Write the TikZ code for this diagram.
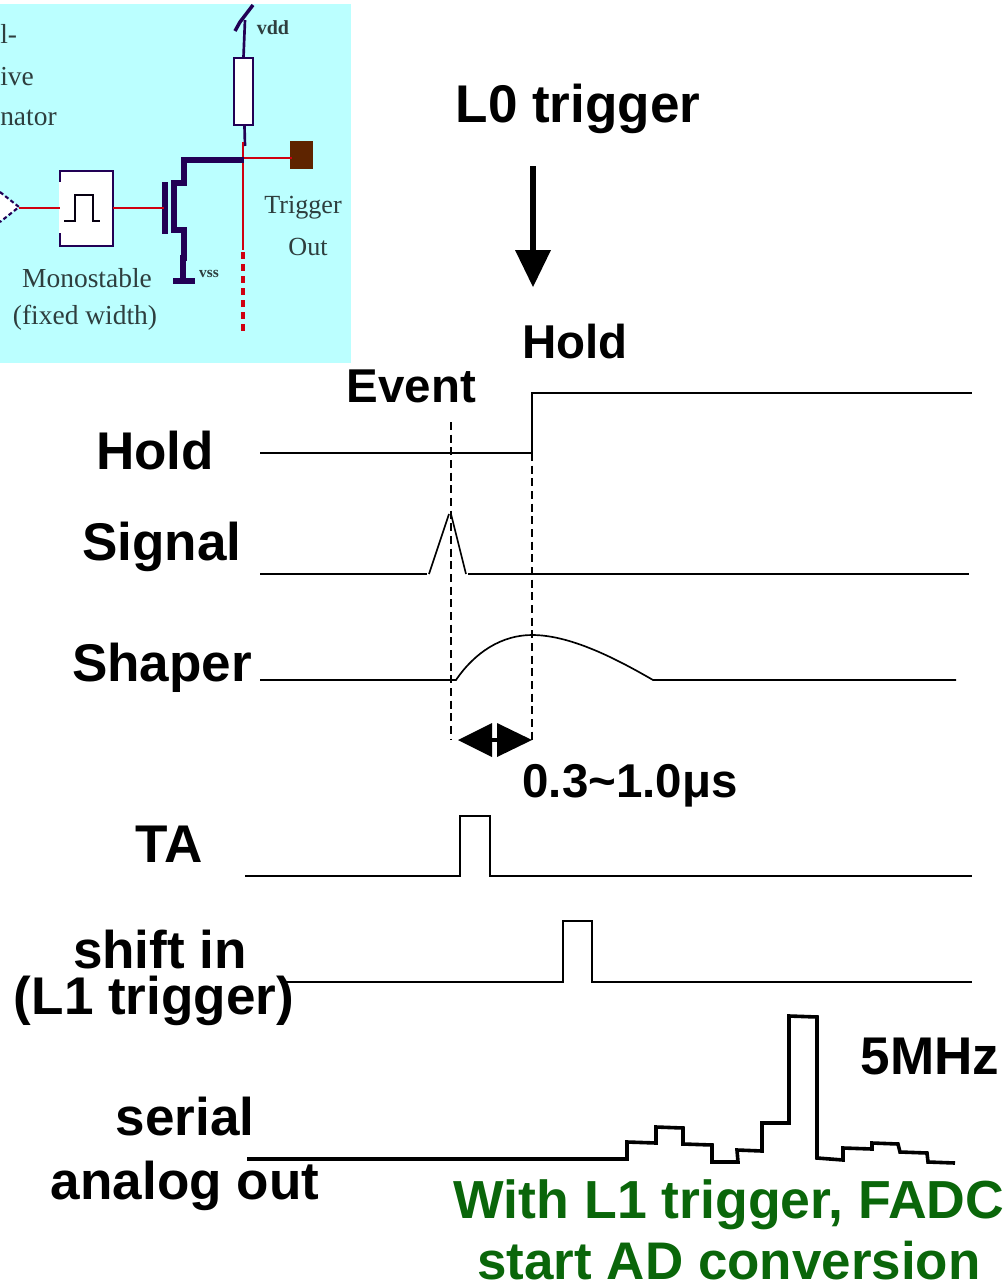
\documentclass[tikz,border=0pt]{standalone}
\usepackage{fontspec}
\setmainfont{Liberation Sans}
\newfontfamily\circfont{Liberation Serif}
\usetikzlibrary{arrows.meta}
\definecolor{panelcyan}{HTML}{BBFFFF}
\definecolor{navywire}{HTML}{220055}
\definecolor{redwire}{HTML}{D00010}
\definecolor{padbrown}{HTML}{5E2400}
\definecolor{fadcgreen}{HTML}{0A660A}
\definecolor{circtext}{HTML}{2E3E3E}
\tikzset{
  x=0.75pt,y=-0.75pt,
  bigtext/.style={anchor=base,inner sep=0pt,font=\fontsize{39.8}{44}\selectfont\bfseries},
  midtext/.style={anchor=base,inner sep=0pt,font=\fontsize{35.6}{40}\selectfont\bfseries},
  greentext/.style={anchor=base,inner sep=0pt,text=fadcgreen,font=\fontsize{40.2}{44}\selectfont\bfseries},
  circlabel/.style={anchor=base,inner sep=0pt,text=circtext,font=\fontsize{20.6}{24}\circfont},
  wave/.style={line width=1.25pt,line join=miter},
  thickwave/.style={line width=2.7pt,line join=miter},
  guide/.style={line width=0.9pt,dash pattern=on 6pt off 3.5pt},
  navy/.style={navywire,line width=2pt},
  navyheavy/.style={navywire,line width=3.8pt},
  redline/.style={redwire,line width=1.4pt},
}
\begin{document}
\begin{tikzpicture}
\useasboundingbox (0,0) rectangle (1007,1282);
% circuit panel
\fill[panelcyan] (0,4) rectangle (351,363);
\coordinate (vddtop) at (245,20);
\coordinate (junction) at (244,160);
\node[draw=navywire,line width=1.7pt,fill=white,minimum width=14pt,minimum height=50pt,inner sep=0pt] (res) at (243.5,91.5) {};
\draw[navywire,line width=2.6pt] (235,31) -- (240,22) -- (253,5);
\draw[navy] (vddtop) -- (res.north);
\draw[navy] (res.south) ++(1,0) -- (245,146);
\draw[redline] (243,142) -- (243,250);
\draw[redwire,line width=3.2pt,dash pattern=on 5pt off 4pt] (243,252) -- (243,331);
\node[fill=padbrown,minimum width=17.5pt,minimum height=21pt,inner sep=0pt] (pad) at (301.5,155) {};
\draw[redline] (junction |- pad.west) ++(0,3) -- ++(48,0);
\draw[navyheavy] (181,160) -- (junction);
\draw[navyheavy] (184,160) -- (184,183) -- (174,183) -- (174,230) -- (184,230) -- (184,258) -- (183,258) -- (183,281);
\draw[navyheavy] (173,281) -- (195,281);
\draw[navywire,line width=3.8pt] (165,182) -- (165,234);
\node[fill=white,minimum width=40pt,minimum height=57pt,inner sep=0pt] (mono) at (86,208) {};
\draw[navy] (60,182) -- (60,171) -- (113,171) -- (113,246) -- (60,246) -- (60,233);
\draw[line width=1.8pt,black!80!navywire] (64,221) -- (75,221) -- (75,195) -- (93,195) -- (93,221) -- (100,221);
\draw[redline] (19,208) -- (60,208);
\draw[redline] (113,208) -- (164,208);
\coordinate (tipc) at (19,207);
\fill[white] (0,193) -- (tipc) -- (0,221) -- cycle;
\draw[navywire,line width=1.6pt,dash pattern=on 3pt off 2pt] (0,192) -- (tipc) -- (0,222);
\node[circlabel,anchor=base west] (t1) at (0,43) {l-};
\node[circlabel,anchor=base west] (t2) at (0,85) {ive};
\node[circlabel,anchor=base west] (t3) at (0,125) {nator};
\node[circlabel] (t4) at (87,287) {Monostable};
\node[circlabel] (t5) at (85,324) {(fixed width)};
\node[circlabel,font=\fontsize{19.6}{24}\circfont] (t6) at (303,213) {Trigger};
\node[circlabel,font=\fontsize{19.6}{24}\circfont] (t7) at (308,255) {Out};
\node[circlabel,font=\fontsize{15}{18}\circfont\bfseries] (t8) at (273,34) {vdd};
\node[circlabel,font=\fontsize{11.5}{13}\circfont\bfseries] (t9) at (209,277) {vss};
% L0 arrow
\node[bigtext] (l0) at (578,122) {L0 trigger};
\coordinate (arrtop) at (533,166);
\coordinate (arrtip) at (533,287);
\draw[line width=5.2pt] (arrtop) -- (533,252);
\fill (515,250) -- (551,250) -- (arrtip) -- cycle;
% labels
\node[midtext] (hold2) at (575,358) {Hold};
\node[midtext] (event) at (411.5,402) {Event};
\node[bigtext] (hold1) at (155,469) {Hold};
\node[bigtext] (signal) at (162,560) {Signal};
\node[bigtext] (shaper) at (162,681) {Shaper};
\node[midtext] (delay) at (630,797) {0.3\char"7E 1.0μs};
\node[bigtext] (ta) at (169,862) {TA};
\node[bigtext] (shift) at (160,968) {shift in};
\node[bigtext] (l1) at (154,1014) {(L1 trigger)};
\node[bigtext] (serial) at (185,1135) {serial};
\node[bigtext] (analog) at (185,1199) {analog out};
\node[bigtext] (mhz) at (930,1074) {5MHz};
\node[greentext] (g1) at (729,1218) {With L1 trigger, FADC};
\node[greentext,font=\fontsize{39.7}{44}\selectfont\bfseries] (g2) at (729,1279.5) {start AD conversion};
% guides
\coordinate (evtop) at (451,422);
\coordinate (evbot) at (451,740);
\coordinate (hotop) at (532,453);
\coordinate (hobot) at (532,740);
\draw[guide] (evtop) -- (evbot);
\draw[guide] (hotop) -- (hobot);
% waves
\draw[wave] (260,453) -- (532,453) -- (532,393) -- (972,393);
\draw[wave] (260,574) -- (427,574);
\draw[wave] (429,574) -- (449,514);
\draw[wave] (451,514) -- (466,574);
\draw[wave] (468,574) -- (969,574);
\draw[wave] (260,680) -- (456,680) .. controls (475,652) and (502,635) .. (532,635) .. controls (570,635) and (615,658) .. (653,680) -- (956,680);
% delay arrow
\fill (458,740) -- (492,723) -- (492,757) -- cycle;
\fill (532,740) -- (497,723) -- (497,757) -- cycle;
\draw[line width=3pt] (492,740) -- (497,740);
\draw[wave] (245,876) -- (460,876) -- (460,816) -- (490,816) -- (490,876) -- (972,876);
\draw[wave] (280,982) -- (563,982) -- (563,921) -- (592,921) -- (592,982) -- (972,982);
\draw[thickwave] (247,1159) -- (627,1159) -- (627,1142) -- (656,1143) -- (656,1127) -- (683,1128) -- (683,1144) -- (712,1145) -- (712,1162) -- (738,1162) -- (737,1150) -- (762,1151) -- (762,1123) -- (789,1123) -- (789,1016) -- (817,1017) -- (817,1158) -- (843,1160) -- (843,1148) -- (872,1149) -- (872,1143) -- (898,1144) -- (900,1152) -- (927,1153) -- (928,1162) -- (955,1163);
\end{tikzpicture}
\end{document}
